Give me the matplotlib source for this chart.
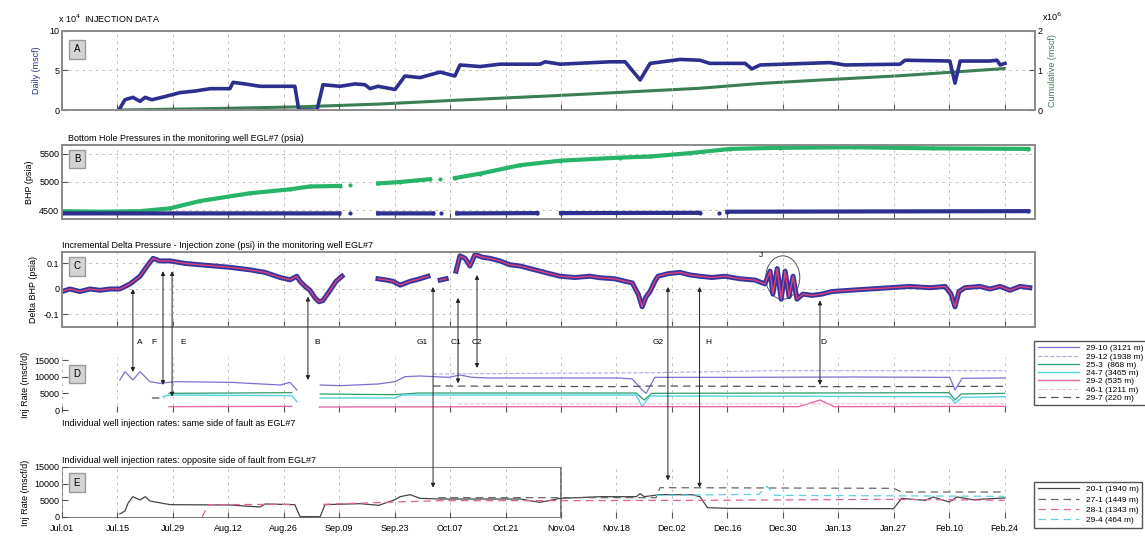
import numpy as np
import matplotlib.pyplot as plt
from matplotlib.patches import ConnectionPatch, Ellipse, Rectangle

nan = np.nan
plt.rcParams['font.family'] = ['Liberation Sans', 'DejaVu Sans']
plt.rcParams['font.size'] = 6.5

# x axis: days since Jul.01
tick_days = list(range(0, 239, 14))
tick_labels = ["Jul.01", "Jul.15", "Jul.29", "Aug.12", "Aug.26", "Sep.09", "Sep.23", "Oct.07",
               "Oct.21", "Nov.04", "Nov.18", "Dec.02", "Dec.16", "Dec.30", "Jan.13", "Jan.27",
               "Feb.10", "Feb.24"]

# A: injection data (daily x1e4, cumulative x1e6)
daily_days = [14.6, 15.9, 17.9, 19.7, 21.0, 22.7, 26.0, 29.8, 33.6, 37.4, 42.4, 43.2, 46.2, 50.0,
              58.8, 59.8, 64.4, 65.9, 70.2, 74.0, 76.5, 77.8, 79.8, 84.1, 86.6, 90.4, 95.5, 99.2,
              100.5, 105.6, 110.6, 120.7, 122.0, 125.8, 138.4, 142.2, 146.0, 148.5, 156.1, 161.1,
              163.6, 172.5, 174.2, 176.3, 193.9, 197.7, 211.6, 212.9, 224.2, 225.5, 226.8, 234.3,
              236.1, 236.9, 238.1]
daily_rate = [0.2, 1.3, 1.6, 1.1, 1.6, 1.3, 1.7, 2.2, 2.4, 2.7, 2.7, 3.5, 3.3, 3.0, 3.0, 0.0,
              0.0, 3.2, 3.0, 3.3, 3.2, 2.7, 3.0, 2.6, 4.3, 4.1, 4.8, 4.3, 5.7, 5.5, 5.8, 5.8, 6.1,
              5.8, 6.1, 6.1, 3.8, 5.9, 6.4, 6.3, 5.9, 5.9, 5.2, 5.7, 6.0, 5.7, 5.8, 6.3, 6.2, 3.4,
              6.2, 6.2, 6.3, 5.7, 5.9]
cum_days = [14.6, 40, 60, 80, 100, 126, 161, 176, 190, 212, 238]
cum_vol = [0.0, 0.04, 0.08, 0.15, 0.25, 0.37, 0.55, 0.67, 0.75, 0.87, 1.05]

# B: bottom hole pressures (psia)
bhp_up_days = [0, 10, 19.7, 27.3, 34.8, 47.5, 57.6, 62.6, 70.2, 71.5, 72.7, 74, 79.8, 85.4, 92.9,
               94.5, 95.5, 97, 99.2, 105.6, 115.7, 125.8, 140.9, 148.5, 158.6, 168.7, 181.3, 200,
               220, 244]
bhp_up = [4480, 4470, 4480, 4530, 4660, 4800, 4870, 4920, 4930, nan, 4950, nan, 4975, 5000, 5050,
          nan, 5060, nan, 5070, 5150, 5300, 5380, 5435, 5455, 5515, 5590, 5610, 5620, 5600, 5590]
bhp_lo_days = [0, 70, 71.5, 72.7, 74, 79.8, 93.7, 94.8, 95.8, 97, 99.8, 120, 122, 126, 161, 163,
               166, 167, 168, 244]
bhp_lo = [4440, 4440, nan, 4440, nan, 4440, 4440, nan, 4440, nan, 4440, 4445, nan, 4445, 4450,
          nan, 4450, nan, 4470, 4480]

# C: incremental delta pressure (psi)
dp_days = [0, 2.0, 4.5, 7.1, 9.6, 12.1, 14.6, 15.9, 17.2, 19.7, 21.5, 23.0, 24.7, 27.3, 31.1,
           34.8, 38.6, 42.4, 47.5, 51.3, 55.1, 57.6, 59.3, 60.1, 61.4, 62.6, 63.9, 64.9, 65.9,
           67.7, 69.2, 70.7, 75, 79.8, 81.6, 83.6, 85.4, 87.9, 90.4, 92.4, 94, 95.5, 97.0, 98.3,
           99.5, 100.5, 101.8, 103.0, 104.3, 106.1, 108.1, 110.6, 113.1, 115.7, 118.2, 120.7,
           123.2, 125.8, 129.5, 133.3, 135.9, 139.6, 142.2, 144.0, 145.5, 146.5, 147.5, 148.5,
           149.7, 150.5, 153.0, 156.1, 158.6, 161.1, 164.1, 167.4, 171.2, 175.0, 177.5, 178.8,
           179.5, 180.6, 181.6, 182.6, 183.6, 184.6, 185.6, 187.1, 189.4, 191.9, 194.4, 199.0,
           204.0, 209.1, 214.1, 219.2, 223.0, 224.5, 225.5, 226.5, 228.0, 231.8, 234.3, 236.9,
           239.4, 241.9, 244.4]
dp = [-0.01, 0.0, -0.01, 0.0, -0.005, 0.0, 0.0, 0.01, 0.02, 0.05, 0.09, 0.12, 0.11, 0.11, 0.10,
      0.095, 0.09, 0.085, 0.075, 0.065, 0.045, 0.036, 0.05, 0.03, 0.01, -0.005, -0.035, -0.05,
      -0.045, -0.005, 0.03, 0.05, nan, 0.04, 0.036, 0.03, 0.015, 0.03, 0.04, 0.05, nan, 0.035,
      0.04, nan, 0.07, 0.13, 0.12, 0.09, 0.135, 0.125, 0.12, 0.11, 0.095, 0.09, 0.08, 0.07,
      0.06, 0.05, 0.045, 0.05, 0.044, 0.04, 0.03, 0.024, -0.02, -0.07, -0.03, -0.01, 0.03,
      0.05, 0.06, 0.065, 0.055, 0.05, 0.045, 0.05, 0.04, 0.035, 0.02, 0.07, -0.02, 0.08, -0.04,
      0.07, -0.03, 0.05, -0.04, -0.02, -0.025, -0.02, -0.01, -0.005, 0.0, 0.005, 0.01, 0.005,
      0.01, -0.02, -0.07, -0.01, 0.005, 0.01, 0.0, 0.01, -0.005, 0.01, 0.005]

# D: injection rates, same side of fault (mscf/d)
w2910_days = [14.6, 15.9, 17.9, 19.7, 22.2, 24.7, 28.5, 42.4, 55.1, 57.6, 59.3, 60.5, 65.2, 70.2,
              79.8, 84.1, 86.6, 90.4, 97.7, 100.5, 103.5, 108, 140.9, 144, 146.5, 147.5, 149.7,
              170, 200, 224.2, 225.5, 227.3, 238]
w2910 = [9000, 11500, 9000, 11500, 8500, 8000, 8500, 8300, 7500, 8300, 6000, nan, 7500, 7300,
         7800, 8500, 10000, 10200, 9800, 10500, 9800, 9600, 9600, 9300, 6000, 5000, 9800, 9800,
         9900, 9800, 6000, 9500, 9600]
w2912_days = [93.7, 120, 150, 180, 238]
w2912 = [10800, 11000, 11200, 11800, 11800]
w253_days = [27, 58, 60, 65.2, 84, 90, 145, 147, 149, 224, 225.5, 227, 238]
w253 = [5000, 5200, nan, 4800, 4600, 5100, 5100, 3000, 5000, 5200, 3000, 4800, 5000]
w247_days = [25.5, 27, 58, 59.3, 62, 65.2, 84, 86, 145, 146.5, 148.5, 224.2, 225.5, 227.3, 238]
w247 = [4000, 4500, 4300, 2500, nan, 3600, 3600, 4500, 4500, 1000, 4200, 4000, 2000, 3800, 4000]
w292_days = [27, 58, 61, 65, 120, 186, 191.4, 195, 238]
w292 = [1000, 1100, nan, 900, 1000, 1000, 3000, 1000, 1100]
w461_days = [100, 150, 238]
w461 = [1800, 1800, 1900]
w297_days = [22.7, 26, 30, 93.7, 140, 150, 200, 238]
w297 = [3600, 3600, nan, 7200, 7000, 7200, 7000, 7100]

# E: injection rates, opposite side of fault (mscf/d)
w201_days = [14.6, 15.9, 16.7, 17.9, 19.7, 21.0, 22.2, 27.3, 42.4, 50.0, 51.3, 58.8, 60.1, 65.2,
             66.4, 75.3, 80, 84.1, 85.4, 87.9, 90.4, 95.5, 115.7, 120.7, 125.8, 136, 145, 146,
             147, 151, 159, 161.1, 163, 168, 210, 212, 218, 220, 224, 226, 230, 238]
w201 = [900, 1800, 4200, 6100, 5100, 6100, 4800, 3700, 3600, 3000, 3900, 3700, 100, 100, 3700,
        4000, 3500, 5200, 6100, 6700, 5600, 5400, 5400, 4400, 5600, 6100, 6100, 7000, 6100, 6700,
        6700, 6100, 2800, 2600, 2500, 5600, 5000, 6000, 4500, 6000, 5200, 5700]
w271_days = [95, 150, 151, 210, 212, 238]
w271 = [5800, 5800, 8800, 8600, 7500, 7500]
w281_days = [35.4, 37, 58.8, 62, 66, 95, 126, 161, 210, 238]
w281 = [0, 3700, 3800, nan, 3800, 4900, 4900, 5000, 5300, 5000]
w294_days = [150, 176, 178, 180, 238]
w294 = [6500, 6800, 9200, 6500, 6200]

# arrows: label, day, value in C, target panel, value in target, label x (px)
arrows = [("A", 17.9, 0.0, "D", 11400, 140), ("F", 25.5, 0.07, "D", 7500, 154),
          ("E", 27.8, 0.07, "D", 4000, 183), ("B", 62.1, -0.03, "D", 9000, 317),
          ("G1", 93.7, 0.008, "E", 8800, 422), ("C1", 100.0, -0.035, "D", 8000, 456),
          ("C2", 104.8, 0.055, "D", 12600, 477), ("G2", 153.0, 0.008, "E", 11000, 658),
          ("H", 161.0, 0.008, "E", 8800, 708), ("D", 191.4, -0.045, "D", 7500, 823)]

W, H = 1145, 536
fig = plt.figure(figsize=(W / 100, H / 100), dpi=100)


def box(top, bottom):
    return [62 / W, 1 - bottom / H, (1035 - 62) / W, (bottom - top) / H]


grid_kw = dict(color='#b4b4b4', lw=0.6, ls=(0, (3, 5)))


def style(ax, frame=True, ygrid=True):
    ax.set_xlim(0, 245.7)
    ax.set_xticks(tick_days)
    ax.set_xticklabels([])
    ax.tick_params(direction='in', length=4, width=0.8, color='#555555', pad=2)
    ax.xaxis.grid(True, **grid_kw)
    if ygrid:
        ax.yaxis.grid(True, **grid_kw)
    for s in ax.spines.values():
        s.set_color('#8a8a8a')
        s.set_linewidth(1.4)
        s.set_visible(frame)


def letter(ax, txt, yfrac):
    ax.text(0.0154, yfrac, txt, transform=ax.transAxes, ha='center', va='center', fontsize=7,
            bbox=dict(boxstyle='square,pad=0.45', fc='#d4d4d4', ec='#9a9a9a', lw=1))


# ---- A
ax_a = fig.add_axes(box(31, 110))
style(ax_a, ygrid=False)
ax_a.plot(daily_days, daily_rate, color='#2d2f8f', lw=2.6)
ax_a.set_ylim(0, 10)
ax_a.set_yticks([0, 5, 10])
ax_a.set_ylabel('Daily (mscf)', color='#2d2f8f', labelpad=6)
ax_a2 = ax_a.twinx()
ax_a2.plot(cum_days, cum_vol, color='#3b7d55', lw=2.2)
ax_a2.set_ylim(0, 2)
ax_a2.set_yticks([0, 1, 2])
ax_a2.tick_params(direction='in', length=4, color='#555555', pad=2)
ax_a2.yaxis.grid(True, **grid_kw)
ax_a2.set_ylabel('Cumulative (mscf)', color='#3b7d55', labelpad=4)
for s in ax_a2.spines.values():
    s.set_visible(False)
ax_a.set_zorder(ax_a2.get_zorder() + 1)
ax_a.patch.set_visible(False)
letter(ax_a, 'A', 0.77)
fig.text(58 / W, 1 - 19 / H, r'x 10$^4$  INJECTION DATA', fontsize=6.5, va='center')
fig.text(1042 / W, 1 - 17 / H, r'x10$^6$', fontsize=6.5, va='center')

# ---- B
ax_b = fig.add_axes(box(145, 219))
style(ax_b)
ax_b.plot(bhp_up_days, bhp_up, color='#27b36a', lw=3, marker='.', ms=4)
ax_b.plot(bhp_lo_days, bhp_lo, color='#2d2f8f', lw=3, marker='.', ms=4)
ax_b.set_ylim(4340, 5660)
ax_b.set_yticks([4500, 5000, 5500])
ax_b.set_ylabel('BHP (psia)', labelpad=4)
ax_b.set_title('Bottom Hole Pressures in the monitoring well EGL#7 (psia)', loc='left',
               fontsize=6.5, pad=3, x=0.006)
letter(ax_b, 'B', 0.81)

# ---- C
ax_c = fig.add_axes(box(252, 327))
style(ax_c)
ax_c.plot(dp_days, dp, color='#3535a0', lw=3.6)
ax_c.plot(dp_days, dp, color='#e0407a', lw=1.0)
ax_c.set_ylim(-0.149, 0.145)
ax_c.set_yticks([-0.1, 0, 0.1])
ax_c.set_yticklabels(['-0.1', '0', '0.1'])
ax_c.set_ylabel('Delta BHP (psia)', labelpad=4)
ax_c.set_title('Incremental Delta Pressure - Injection zone (psi) in the monitoring well EGL#7',
               loc='left', fontsize=6.5, pad=3, x=0.0)
ax_c.add_patch(Ellipse((182, 0.045), 8.6, 0.17, fill=False, ec='#555555', lw=0.7))
ax_c.text(176, 0.125, 'J', fontsize=6)
letter(ax_c, 'C', 0.81)

# ---- D
ax_d = fig.add_axes(box(357, 412))
style(ax_d, frame=False, ygrid=False)
ax_d.plot(w2910_days, w2910, color='#7b6fd0', lw=0.9, label='29-10 (3121 m)')
ax_d.plot(w2912_days, w2912, color='#b3a8e6', lw=0.8, ls='--', label='29-12 (1938 m)')
ax_d.plot(w253_days, w253, color='#2a9d70', lw=0.9, label='25-3  (868 m)')
ax_d.plot(w247_days, w247, color='#55d3e3', lw=1.0, label='24-7 (3465 m)')
ax_d.plot(w292_days, w292, color='#e56aa5', lw=1.0, label='29-2 (535 m)')
ax_d.plot(w461_days, w461, color='#f3c0d6', lw=0.8, ls='--', label='46-1 (1211 m)')
ax_d.plot(w297_days, w297, color='#555555', lw=0.9, ls=(0, (6, 4)), label='29-7 (220 m)')
ax_d.set_ylim(-600, 15900)
ax_d.set_yticks([0, 5000, 10000, 15000])
ax_d.set_ylabel('Inj Rate (mscf/d)', labelpad=3)
ax_d.legend(loc='upper left', bbox_to_anchor=(1030 / W, 1 - 337 / H),
            bbox_transform=fig.transFigure, fontsize=6, handlelength=5, labelspacing=0.05,
            borderpad=0.4, fancybox=False, edgecolor='#555555', framealpha=1)
letter(ax_d, 'D', 0.69)
fig.text(62 / W, 1 - 423 / H, 'Individual well injection rates: same side of fault as EGL#7',
         fontsize=6.5, va='center')

# ---- E
ax_e = fig.add_axes(box(467, 518))
style(ax_e, frame=False, ygrid=False)
ax_e.plot(w201_days, w201, color='#444444', lw=0.9, label='20-1 (1940 m)')
ax_e.plot(w271_days, w271, color='#666666', lw=0.9, ls=(0, (6, 4)), label='27-1 (1449 m)')
ax_e.plot(w281_days, w281, color='#e0609a', lw=0.9, ls=(0, (6, 4)), label='28-1 (1343 m)')
ax_e.plot(w294_days, w294, color='#60d0e0', lw=0.9, ls=(0, (6, 4)), label='29-4 (464 m)')
ax_e.add_patch(Rectangle((0, -300), 126, 15300, fill=False, ec='#7a7a7a', lw=1.4))
ax_e.set_ylim(-300, 15000)
ax_e.set_yticks([0, 5000, 10000, 15000])
ax_e.set_xticklabels(tick_labels, fontsize=6.5)
ax_e.tick_params(axis='x', pad=4)
ax_e.set_ylabel('Inj Rate (mscf/d)', labelpad=3)
ax_e.legend(loc='upper left', bbox_to_anchor=(1030 / W, 1 - 478 / H),
            bbox_transform=fig.transFigure, fontsize=6, handlelength=5, labelspacing=0.3,
            borderpad=0.4, fancybox=False, edgecolor='#555555', framealpha=1)
ax_e.set_title('Individual well injection rates: opposite side of fault from EGL#7', loc='left',
               fontsize=6.5, pad=3, x=0.0)
letter(ax_e, 'E', 0.69)

# ---- arrows linking C with D / E
targets = {"D": ax_d, "E": ax_e}
for lab, day, cval, tgt, tval, lx in arrows:
    con = ConnectionPatch(xyA=(day, cval), coordsA=ax_c.transData, xyB=(day, tval),
                          coordsB=targets[tgt].transData, arrowstyle='<|-|>',
                          mutation_scale=6, lw=0.7, color='#222222')
    fig.add_artist(con)
    fig.text(lx / W, 1 - 343 / H, lab, fontsize=6, ha='center', va='center')

fig.savefig('out.png', dpi=100)
